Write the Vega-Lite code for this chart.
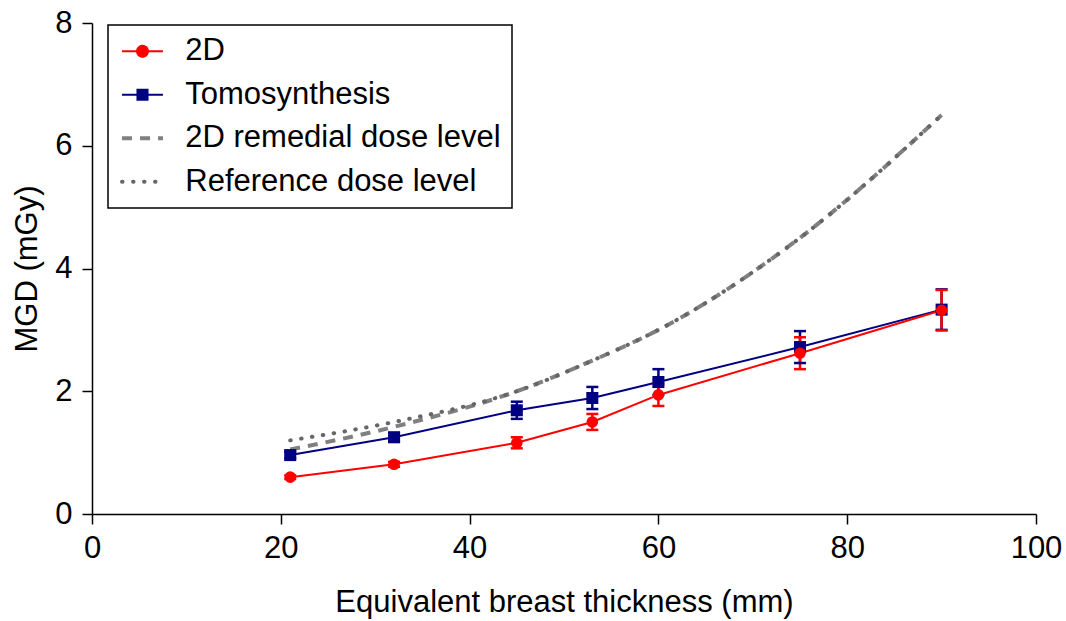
{
  "$schema": "https://vega.github.io/schema/vega-lite/v6.json",
  "width": 944,
  "height": 491,
  "autosize": {"type": "none"},
  "padding": {"left": 92, "top": 23, "right": 30, "bottom": 107},
  "background": "white",
  "config": {
    "view": {"stroke": null},
    "font": "Liberation Sans",
    "axis": {
      "grid": false,
      "labelFlush": false,
      "domainColor": "black",
      "domainWidth": 1.5,
      "tickColor": "black",
      "tickWidth": 1.5,
      "tickSize": 10,
      "labelFont": "Liberation Sans",
      "labelFontSize": 31,
      "labelColor": "black",
      "titleFont": "Liberation Sans",
      "titleFontSize": 31,
      "titleFontWeight": "normal",
      "titleColor": "black"
    }
  },
  "datasets": {
    "measured": [
      {"thickness": 21, "mgd": 0.96, "lo": 0.91, "hi": 1.01, "series": "Tomosynthesis"},
      {"thickness": 32, "mgd": 1.25, "lo": 1.18, "hi": 1.32, "series": "Tomosynthesis"},
      {"thickness": 45, "mgd": 1.69, "lo": 1.55, "hi": 1.83, "series": "Tomosynthesis"},
      {"thickness": 53, "mgd": 1.89, "lo": 1.71, "hi": 2.07, "series": "Tomosynthesis"},
      {"thickness": 60, "mgd": 2.15, "lo": 1.94, "hi": 2.36, "series": "Tomosynthesis"},
      {"thickness": 75, "mgd": 2.72, "lo": 2.46, "hi": 2.98, "series": "Tomosynthesis"},
      {"thickness": 90, "mgd": 3.33, "lo": 3.0, "hi": 3.66, "series": "Tomosynthesis"},
      {"thickness": 21, "mgd": 0.60, "lo": 0.57, "hi": 0.63, "series": "2D"},
      {"thickness": 32, "mgd": 0.81, "lo": 0.77, "hi": 0.85, "series": "2D"},
      {"thickness": 45, "mgd": 1.16, "lo": 1.07, "hi": 1.25, "series": "2D"},
      {"thickness": 53, "mgd": 1.50, "lo": 1.37, "hi": 1.63, "series": "2D"},
      {"thickness": 60, "mgd": 1.94, "lo": 1.76, "hi": 2.12, "series": "2D"},
      {"thickness": 75, "mgd": 2.62, "lo": 2.36, "hi": 2.88, "series": "2D"},
      {"thickness": 90, "mgd": 3.32, "lo": 2.99, "hi": 3.65, "series": "2D"}
    ],
    "levels": [
      {"thickness": 21, "mgd": 1.05, "series": "2D remedial dose level"},
      {"thickness": 32, "mgd": 1.42, "series": "2D remedial dose level"},
      {"thickness": 45, "mgd": 2.0, "series": "2D remedial dose level"},
      {"thickness": 53, "mgd": 2.5, "series": "2D remedial dose level"},
      {"thickness": 60, "mgd": 3.0, "series": "2D remedial dose level"},
      {"thickness": 75, "mgd": 4.5, "series": "2D remedial dose level"},
      {"thickness": 90, "mgd": 6.5, "series": "2D remedial dose level"},
      {"thickness": 21, "mgd": 1.2, "series": "Reference dose level"},
      {"thickness": 32, "mgd": 1.5, "series": "Reference dose level"},
      {"thickness": 45, "mgd": 2.0, "series": "Reference dose level"},
      {"thickness": 53, "mgd": 2.5, "series": "Reference dose level"},
      {"thickness": 60, "mgd": 3.0, "series": "Reference dose level"},
      {"thickness": 75, "mgd": 4.5, "series": "Reference dose level"},
      {"thickness": 90, "mgd": 6.5, "series": "Reference dose level"}
    ]
  },
  "encoding": {
    "x": {
      "field": "thickness",
      "type": "quantitative",
      "scale": {"domain": [0, 100], "nice": false, "zero": true},
      "axis": {
        "title": "Equivalent breast thickness (mm)",
        "values": [0, 20, 40, 60, 80, 100],
        "format": "d",
        "labelFlush": false,
        "labelPadding": 9,
        "titlePadding": 24
      }
    },
    "color": {
      "field": "series",
      "type": "nominal",
      "scale": {
        "domain": ["2D", "Tomosynthesis", "2D remedial dose level", "Reference dose level"],
        "range": ["#ff0000", "#000080", "#808080", "#666666"]
      },
      "legend": {
        "title": null,
        "orient": "none",
        "legendX": 16,
        "legendY": 2,
        "direction": "vertical",
        "strokeColor": "black",
        "fillColor": "white",
        "padding": 10.75,
        "rowPadding": 11.5,
        "symbolOffset": 8.25,
        "labelOffset": 27.25,
        "labelFont": "Liberation Sans",
        "labelFontSize": 31,
        "labelColor": "black",
        "labelLimit": 500,
        "symbolSize": 441,
        "encode": {
          "legend": {
            "update": {"strokeWidth": {"value": 1.5}}
          },
          "symbols": {
            "update": {
              "shape": {"signal": "datum.value === '2D' ? 'M-1.95,0H1.95M0.52,0A0.52,0.52,0,1,1,-0.52,0A0.52,0.52,0,1,1,0.52,0' : datum.value === 'Tomosynthesis' ? 'M-1.95,0H1.95M-0.48,-0.48H0.48V0.48H-0.48Z' : 'M-1.95,0H1.95'"},
              "fill": {"signal": "datum.value === '2D' ? '#ff0000' : datum.value === 'Tomosynthesis' ? '#000080' : 'transparent'"},
              "stroke": {"signal": "datum.value === '2D' ? '#ff0000' : datum.value === 'Tomosynthesis' ? '#000080' : datum.value === '2D remedial dose level' ? '#808080' : '#666666'"},
              "strokeDash": {"signal": "datum.value === '2D remedial dose level' ? [10, 8] : datum.value === 'Reference dose level' ? [0.5, 10.5] : [1, 0]"},
              "strokeCap": {"signal": "datum.value === 'Reference dose level' ? 'round' : 'butt'"},
              "strokeWidth": {"signal": "datum.value === '2D' || datum.value === 'Tomosynthesis' ? 2 : 4"},
              "size": {"value": 441},
              "opacity": {"value": 1}
            }
          }
        }
      }
    }
  },
  "layer": [
    {
      "data": {"name": "levels"},
      "transform": [{"filter": "datum.series === '2D remedial dose level'"}],
      "mark": {"type": "line", "strokeWidth": 4, "strokeDash": [10, 8], "interpolate": "monotone"},
      "encoding": {
        "y": {"field": "mgd", "type": "quantitative"}
      }
    },
    {
      "data": {"name": "levels"},
      "transform": [{"filter": "datum.series === 'Reference dose level'"}],
      "mark": {"type": "line", "strokeWidth": 4, "strokeDash": [0.5, 10.5], "strokeCap": "round", "interpolate": "monotone"},
      "encoding": {
        "y": {"field": "mgd", "type": "quantitative"}
      }
    },
    {
      "data": {"name": "measured"},
      "mark": {"type": "line", "strokeWidth": 2},
      "encoding": {
        "y": {"field": "mgd", "type": "quantitative"}
      }
    },
    {
      "data": {"name": "measured"},
      "mark": {"type": "rule", "strokeWidth": 2.5},
      "encoding": {
        "y": {"field": "lo", "type": "quantitative"},
        "y2": {"field": "hi"}
      }
    },
    {
      "data": {"name": "measured"},
      "mark": {"type": "tick", "orient": "horizontal", "size": 12, "thickness": 2.5, "opacity": 1},
      "encoding": {
        "y": {"field": "lo", "type": "quantitative"}
      }
    },
    {
      "data": {"name": "measured"},
      "mark": {"type": "tick", "orient": "horizontal", "size": 12, "thickness": 2.5, "opacity": 1},
      "encoding": {
        "y": {"field": "hi", "type": "quantitative"}
      }
    },
    {
      "data": {"name": "measured"},
      "mark": {"type": "point", "filled": true, "opacity": 1},
      "encoding": {
        "y": {
          "field": "mgd",
          "type": "quantitative",
          "scale": {"domain": [0, 8], "nice": false},
          "axis": {
            "title": "MGD (mGy)",
            "values": [0, 2, 4, 6, 8],
            "format": "d",
            "labelFlush": false,
            "labelPadding": 10,
            "titlePadding": 11
          }
        },
        "shape": {
          "field": "series",
          "type": "nominal",
          "scale": {"domain": ["2D", "Tomosynthesis"], "range": ["circle", "square"]},
          "legend": null
        },
        "size": {
          "field": "series",
          "type": "nominal",
          "scale": {"domain": ["2D", "Tomosynthesis"], "range": [135, 145]},
          "legend": null
        }
      }
    }
  ]
}
